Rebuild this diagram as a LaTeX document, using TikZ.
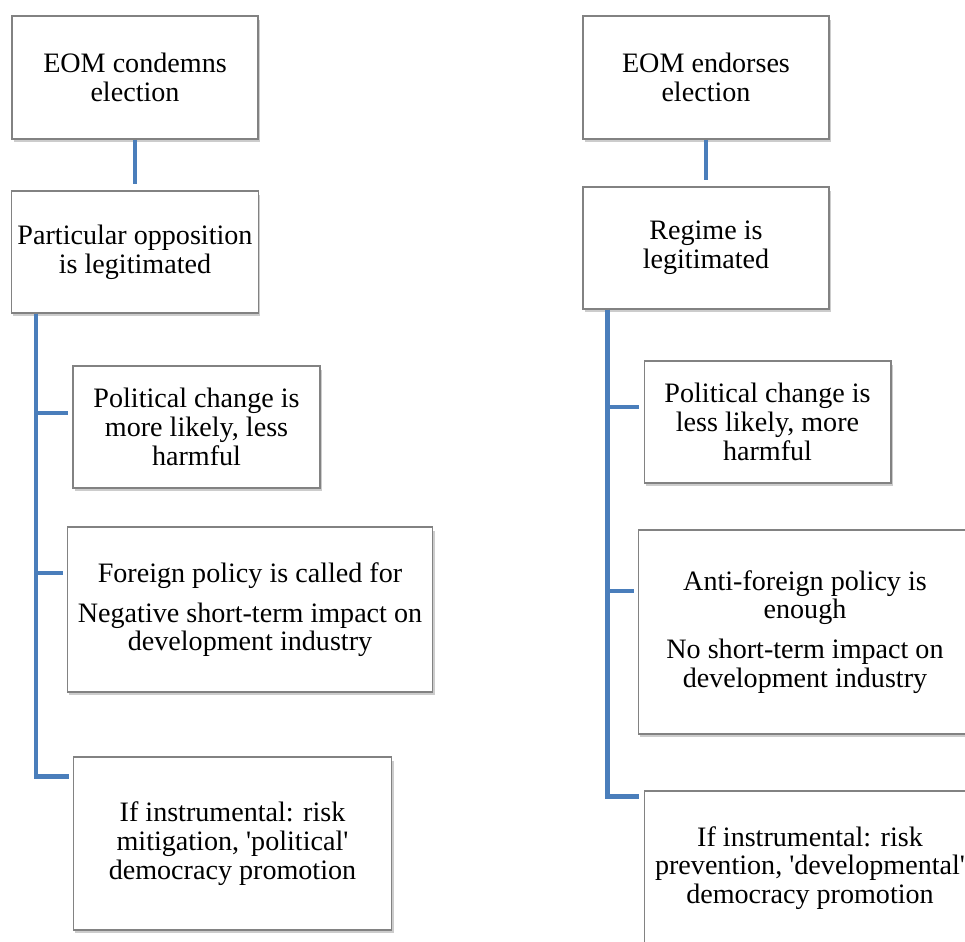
\documentclass[tikz,border=0pt]{standalone}
\usepackage{fontspec}
\setmainfont{Liberation Serif}
\usetikzlibrary{positioning,calc,shadows}
\definecolor{linkColor}{RGB}{74,126,187}
\definecolor{boxLine}{RGB}{130,130,130}
\tikzset{
    outcome/.style={
        rectangle,
        draw=boxLine,
        line width=0.6pt,
        fill=white,
        align=center,
        inner sep=0pt,
        font=\fontsize{16}{16.3}\selectfont,
        drop shadow={shadow xshift=1pt, shadow yshift=-2pt, opacity=0.2, fill=black}
    },
    link/.style={
        draw=linkColor,
        line width=2.8pt
    }
}

\begin{document}
\begin{tikzpicture}[x=0.02cm, y=-0.02cm]
    \clip (0,0) rectangle (965,942);

    % left side: condemned election
    \node[outcome, minimum width=4.92cm, minimum height=2.46cm] (L1) at (135,77.5) {EOM condemns\\election};
    \node[outcome, minimum width=4.94cm, minimum height=2.44cm] (L2) at (135,252) {Particular opposition\\is legitimated};
    \node[outcome, minimum width=4.94cm, minimum height=2.44cm] (L3) at (196.5,427) {Political change is\\more likely, less\\harmful};
    \node[outcome, minimum width=7.32cm, minimum height=3.3cm] (L4) at (250,609.5) {Foreign policy is called for\\[6.5pt]Negative short-term impact on\\development industry};
    \node[outcome, minimum width=6.38cm, minimum height=3.46cm] (L5) at (232.5,843.5) {If instrumental: risk\\mitigation, \textquotesingle political\textquotesingle\\democracy promotion};

    % right side: endorsed election
    \node[outcome, minimum width=4.92cm, minimum height=2.46cm] (R1) at (706,77.5) {EOM endorses\\election};
    \node[outcome, minimum width=4.92cm, minimum height=2.44cm] (R2) at (706,248) {Regime is\\legitimated};
    \node[outcome, minimum width=4.94cm, minimum height=2.44cm] (R3) at (767.5,422) {Political change is\\less likely, more\\harmful};
    \node[outcome, minimum width=6.68cm, minimum height=4.08cm] (R4) at (805,632) {Anti-foreign policy is\\enough\\[6.5pt]No short-term impact on\\development industry};
    \node[outcome, minimum width=6.64cm, minimum height=3.08cm] (R5) at (810,868) {If instrumental: risk\\prevention, \textquotesingle developmental\textquotesingle\\democracy promotion};

    \draw[link, shorten >=0.13cm] (L1) -- (L2);
    \draw[link, shorten >=0.12cm] (R1) -- (R2);

    \coordinate (Lroot) at ($(L2.south west)+(25,0)$);
    \draw[link] (Lroot) |- ($(L3.west)+(-4,-14)$);
    \draw[link] (Lroot) |- ($(L4.west)+(-4,-36.5)$);
    \draw[link] (Lroot) |- ($(L5.north west)+(-4,20)$);

    \coordinate (Rroot) at ($(R2.south west)+(25,0)$);
    \draw[link] (Rroot) |- ($(R3.west)+(-5,-15)$);
    \draw[link] (Rroot) |- ($(R4.west)+(-4,-41)$);
    \draw[link] (Rroot) |- ($(R5.north west)+(-5,6)$);
\end{tikzpicture}
\end{document}
